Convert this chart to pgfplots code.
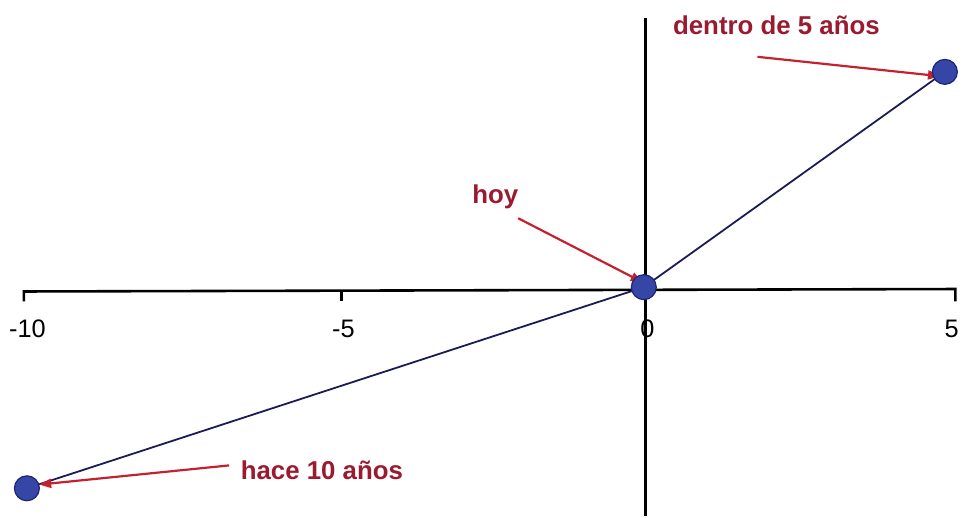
\documentclass[border=0pt]{standalone}
\usepackage{fontspec}
\setmainfont{Liberation Sans}
\usepackage{pgfplots}
\pgfplotsset{compat=1.18}
\usetikzlibrary{arrows.meta}

\definecolor{dotfill}{HTML}{3646A6}
\definecolor{dotedge}{HTML}{1E2673}
\definecolor{linecol}{HTML}{1B1B55}
\definecolor{arrowred}{HTML}{C4202E}
\definecolor{textred}{HTML}{9A1A30}

\begin{document}
\begin{tikzpicture}
  \begin{axis}[
    scale only axis,
    width=962bp, height=518bp,
    xmin=-10.436, xmax=5.105,
    ymin=-3.683, ymax=4.685,
    axis lines=none,
    clip=false,
  ]
    \path (rel axis cs:0,0) rectangle (rel axis cs:1,1);

    % axes
    \draw[line width=2.6bp, black] (axis cs:-10.05,-0.2) -- (axis cs:-10.05,-0.04) -- (axis cs:5.05,0) -- (axis cs:5.05,-0.2);
    \draw[line width=2.2bp, black] (axis cs:-4.9,-0.02) -- (axis cs:-4.9,-0.2);
    \draw[line width=2.4bp, black] (axis cs:0.03,4.39) -- (axis cs:0.03,-3.683);

    % tick labels
    \begin{scope}[font=\fontsize{25.5}{30}\selectfont]
      \node at (axis cs:-9.99,-0.65) {-10};
      \node at (axis cs:-4.87,-0.65) {-5};
      \node at (axis cs:0.06,-0.65) {0};
      \node at (axis cs:4.99,-0.65) {5};
    \end{scope}

    % positions
    \addplot[color=linecol, line width=1.8bp, mark=*, mark size=12.5bp,
      mark options={fill=dotfill, draw=dotedge, line width=1.2bp}]
      coordinates {(-10,-3.23) (0,0.03) (4.88,3.52)};

    % annotations
    \begin{scope}[-{Triangle[length=12bp,width=9bp]}, arrowred, line width=2.2bp]
      \draw (axis cs:-2.036,1.147) -- (axis cs:-0.02,0.11);
      \draw (axis cs:1.842,3.764) -- (axis cs:4.80,3.45);
      \draw (axis cs:-6.721,-2.859) -- (axis cs:-9.80,-3.17);
    \end{scope}
    \begin{scope}[font=\fontsize{26}{30}\selectfont\bfseries, text=textred]
      \node at (axis cs:-2.407,1.502) {hoy};
      \node at (axis cs:2.149,4.281) {dentro de 5 años};
      \node at (axis cs:-5.218,-2.940) {hace 10 años};
    \end{scope}
  \end{axis}
\end{tikzpicture}
\end{document}
